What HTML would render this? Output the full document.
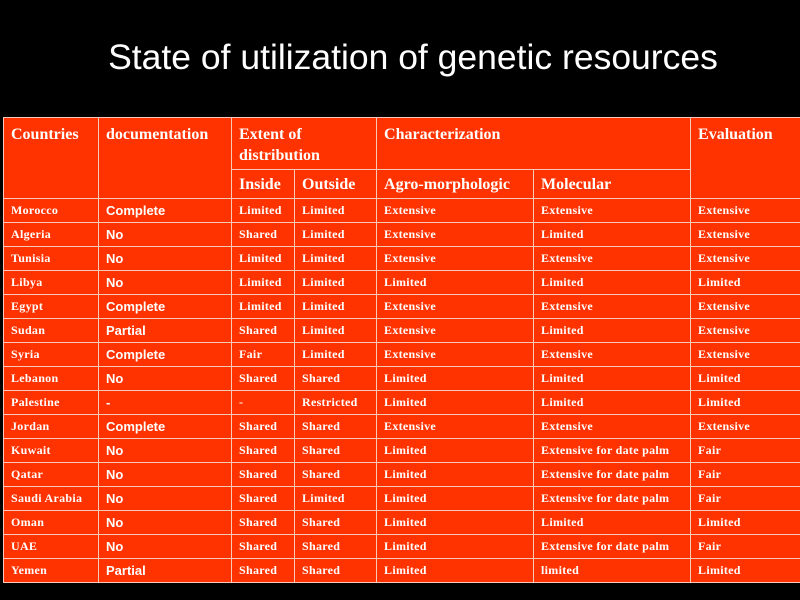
<!DOCTYPE html>
<html><head><style>
body{margin:0;width:800px;height:600px;background:#000;overflow:hidden;position:relative;font-family:"Liberation Serif",serif;}
h1{position:absolute;top:37px;left:0;width:826px;margin:0;text-align:center;color:#fff;font:35.5px "Liberation Sans",sans-serif;}
table{position:absolute;left:3px;top:117px;border-collapse:collapse;background:#ff3300;table-layout:fixed;width:805px;}
td{border:1px solid #f8c8b8;color:#fff;padding:0 0 0 7px;font-size:12px;font-weight:bold;height:23px;white-space:nowrap;overflow:hidden;letter-spacing:0.3px}
tr.h td{font-size:16px;vertical-align:top;padding-top:6px;height:22px;line-height:21px;letter-spacing:0}
tr.h2 td{height:24px;padding-top:4px;}
td.d{font-family:"Liberation Sans",sans-serif;font-size:13px;letter-spacing:0}
</style></head><body>
<h1>State of utilization of genetic resources</h1>
<table>
<colgroup><col style="width:95px"><col style="width:133px"><col style="width:63px"><col style="width:82px"><col style="width:157px"><col style="width:157px"><col style="width:118px"></colgroup>
<tr class="h"><td rowspan="2">Countries</td><td rowspan="2">documentation</td><td colspan="2" style="height:45px">Extent of<br>distribution</td><td colspan="2">Characterization</td><td rowspan="2">Evaluation</td></tr>
<tr class="h h2"><td>Inside</td><td>Outside</td><td>Agro-morphologic</td><td>Molecular</td></tr>
<tr><td>Morocco</td><td class="d">Complete</td><td>Limited</td><td>Limited</td><td>Extensive</td><td>Extensive</td><td>Extensive</td></tr>
<tr><td>Algeria</td><td class="d">No</td><td>Shared</td><td>Limited</td><td>Extensive</td><td>Limited</td><td>Extensive</td></tr>
<tr><td>Tunisia</td><td class="d">No</td><td>Limited</td><td>Limited</td><td>Extensive</td><td>Extensive</td><td>Extensive</td></tr>
<tr><td>Libya</td><td class="d">No</td><td>Limited</td><td>Limited</td><td>Limited</td><td>Limited</td><td>Limited</td></tr>
<tr><td>Egypt</td><td class="d">Complete</td><td>Limited</td><td>Limited</td><td>Extensive</td><td>Extensive</td><td>Extensive</td></tr>
<tr><td>Sudan</td><td class="d">Partial</td><td>Shared</td><td>Limited</td><td>Extensive</td><td>Limited</td><td>Extensive</td></tr>
<tr><td>Syria</td><td class="d">Complete</td><td>Fair</td><td>Limited</td><td>Extensive</td><td>Extensive</td><td>Extensive</td></tr>
<tr><td>Lebanon</td><td class="d">No</td><td>Shared</td><td>Shared</td><td>Limited</td><td>Limited</td><td>Limited</td></tr>
<tr><td>Palestine</td><td class="d">-</td><td>-</td><td>Restricted</td><td>Limited</td><td>Limited</td><td>Limited</td></tr>
<tr><td>Jordan</td><td class="d">Complete</td><td>Shared</td><td>Shared</td><td>Extensive</td><td>Extensive</td><td>Extensive</td></tr>
<tr><td>Kuwait</td><td class="d">No</td><td>Shared</td><td>Shared</td><td>Limited</td><td>Extensive for date palm</td><td>Fair</td></tr>
<tr><td>Qatar</td><td class="d">No</td><td>Shared</td><td>Shared</td><td>Limited</td><td>Extensive for date palm</td><td>Fair</td></tr>
<tr><td>Saudi Arabia</td><td class="d">No</td><td>Shared</td><td>Limited</td><td>Limited</td><td>Extensive for date palm</td><td>Fair</td></tr>
<tr><td>Oman</td><td class="d">No</td><td>Shared</td><td>Shared</td><td>Limited</td><td>Limited</td><td>Limited</td></tr>
<tr><td>UAE</td><td class="d">No</td><td>Shared</td><td>Shared</td><td>Limited</td><td>Extensive for date palm</td><td>Fair</td></tr>
<tr><td>Yemen</td><td class="d">Partial</td><td>Shared</td><td>Shared</td><td>Limited</td><td>limited</td><td>Limited</td></tr>
</table>
</body></html>
